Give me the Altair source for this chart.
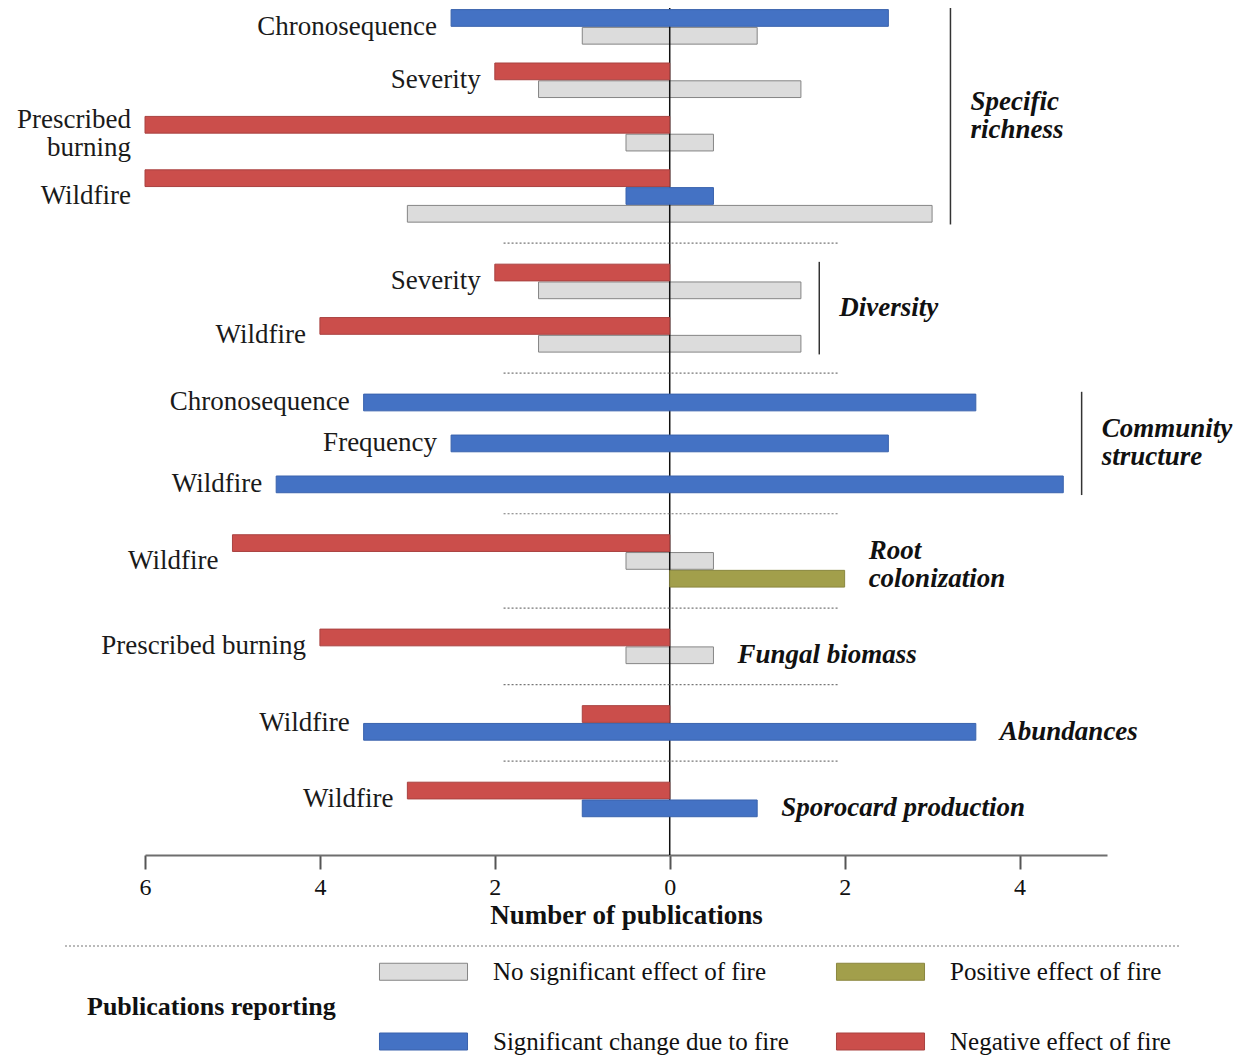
import altair as alt
import pandas as pd

SERIF = "Liberation Serif"

# ---------------- data ----------------
EFFECTS = ["No significant effect of fire", "Significant change due to fire",
           "Positive effect of fire", "Negative effect of fire"]
FILLS = ["#DCDCDC", "#4472C4", "#A29F4B", "#CB4E4B"]
STROKES = ["#858585", "#3A63AD", "#8A873F", "#A94240"]
CODE = {"N": EFFECTS[0], "S": EFFECTS[1], "+": EFFECTS[2], "-": EFFECTS[3]}

GROUPS = ["Specific\nrichness", "Diversity", "Community\nstructure",
          "Root\ncolonization", "Fungal biomass", "Abundances",
          "Sporocard production"]
GROUP_BRACKET = [True, True, True, False, False, False, False]

ROW_GROUP = [0, 0, 0, 0, 1, 1, 2, 2, 2, 3, 4, 5, 6]
ROW_LABEL = ["Chronosequence", "Severity", "Prescribed\nburning", "Wildfire",
             "Severity", "Wildfire",
             "Chronosequence", "Frequency", "Wildfire",
             "Wildfire", "Prescribed burning", "Wildfire", "Wildfire"]

BAR_ROW = [0, 0, 1, 1, 2, 2, 3, 3, 3, 4, 4, 5, 5, 6, 7, 8,
           9, 9, 9, 10, 10, 11, 11, 12, 12]
BAR_EFFECT = ["S", "N", "-", "N", "-", "N", "-", "S", "N", "-", "N", "-", "N",
              "S", "S", "S", "-", "N", "+", "-", "N", "-", "S", "-", "S"]
BAR_COUNT = [5, 2, 2, 3, 6, 1, 6, 1, 6, 2, 3, 4, 3, 7, 5, 9,
             5, 1, 2, 4, 1, 1, 7, 3, 2]

TICKS = [-6, -4, -2, 0, 2, 4]

# ---------------- layout (derived) ----------------
ROW_STEP_MULTI, ROW_STEP_SINGLE, GROUP_STEP = 2.0, 2.3, 3.3
HALF = 0.47
PITCH_PX = 17.8
LINE_PX = 28
GLINE_PX = 28
LH = LINE_PX / PITCH_PX    # row-label line height in slot units
GLH = GLINE_PX / PITCH_PX  # group-label line height in slot units

row_slots = {}
prev_last, prev_group = None, None
for r in range(len(ROW_LABEL)):
    n = BAR_ROW.count(r)
    if prev_last is None:
        start = 0.0
    elif ROW_GROUP[r] != prev_group:
        start = prev_last + GROUP_STEP
    else:
        start = prev_last + (ROW_STEP_MULTI if n > 1 else ROW_STEP_SINGLE)
    row_slots[r] = [start + k for k in range(n)]
    prev_last = start + n - 1
    prev_group = ROW_GROUP[r]

bars = []
seen = {}
for r, e, c in zip(BAR_ROW, BAR_EFFECT, BAR_COUNT):
    k = seen.get(r, 0)
    seen[r] = k + 1
    s = row_slots[r][k]
    if e == "-":
        x0, x1 = -c, 0
    elif e == "+":
        x0, x1 = 0, c
    else:
        x0, x1 = -c / 2, c / 2
    bars.append({"row": r, "effect": CODE[e], "x0": x0, "x1": x1,
                 "y0": s - HALF, "y1": s + HALF, "gray": e == "N"})
bars = pd.DataFrame(bars)

rows = []
for r, lab in enumerate(ROW_LABEL):
    sub = bars[bars.row == r]
    nl = lab.count("\n")
    rows.append({"label": lab, "x": sub.x0.min(),
                 "y": sum(row_slots[r]) / len(row_slots[r]) - nl * LH / 2})
rows = pd.DataFrame(rows)

groups = []
for g, name in enumerate(GROUPS):
    rs = [r for r in range(len(ROW_LABEL)) if ROW_GROUP[r] == g]
    first = row_slots[rs[0]][0]
    last = row_slots[rs[-1]][-1]
    gmax = bars[bars.row.isin(rs)].x1.max()
    nl = name.count("\n")
    ty = (first + last) / 2 - nl * GLH / 2 if GROUP_BRACKET[g] else last - nl * GLH
    groups.append({"name": name, "bracket": GROUP_BRACKET[g], "first": first,
                   "last": last, "ty": ty,
                   "bx": gmax + 0.21, "gmax": gmax,
                   "b0": first - 0.6, "b1": last + 0.6})
groups = pd.DataFrame(groups)

seps = pd.DataFrame([{"y": (groups["last"][i] + groups["first"][i + 1]) / 2,
                      "x0": -1.9, "x1": 1.93} for i in range(len(GROUPS) - 1)])

x_scale = alt.Scale(domain=[-6, 5], nice=False, zero=False)
y_scale = alt.Scale(domain=[-0.56, 47.02], nice=False, zero=False, reverse=True)

SYMBOL = "M-5.18,-1L5.18,-1L5.18,1L-5.18,1Z"

color = alt.Color(
    "effect:N",
    scale=alt.Scale(domain=EFFECTS, range=FILLS),
    legend=alt.Legend(
        title="Publications reporting", orient="none", legendX=-58, legendY=951,
        columns=2, titleOrient="left", titleAnchor="middle", titleBaseline="middle",
        titleFont=SERIF, titleFontSize=26, titleFontWeight="bold", titleColor="#111",
        titlePadding=75, titleLimit=500,
        labelFont=SERIF, labelFontSize=25, labelColor="#111", labelOffset=57,
        labelLimit=500, symbolType=SYMBOL, symbolSize=289,
        symbolStrokeColor="#777", symbolStrokeWidth=1, symbolOpacity=1,
        rowPadding=44, columnPadding=45, padding=0,
    ),
)
stroke = alt.Stroke("effect:N", scale=alt.Scale(domain=EFFECTS, range=STROKES),
                    legend=None)

x_axis = alt.Axis(values=TICKS, labelExpr="abs(datum.value)",
                  title="Number of publications", grid=False, labelFlush=False,
                  domainColor="#6e6e6e", domainWidth=2, tickColor="#555",
                  tickWidth=2, tickSize=14, labelFont=SERIF, labelFontSize=24,
                  labelColor="#111", labelPadding=6, titleFont=SERIF,
                  titleFontSize=27, titleFontWeight="bold", titleColor="#111",
                  titlePadding=3)


def X(field):
    return alt.X(field, type="quantitative", scale=x_scale, axis=x_axis)


def Y(field):
    return alt.Y(field, type="quantitative", scale=y_scale, axis=None)


gray_bars = alt.Chart(bars[bars.gray]).mark_rect(strokeWidth=1).encode(
    x=X("x0"), x2="x1", y=Y("y0"), y2="y1", color=color, stroke=stroke)

zero = alt.Chart(pd.DataFrame({"z": [0]})).mark_rule(
    color="#111", strokeWidth=1.5).encode(x=X("z"))

col_bars = alt.Chart(bars[~bars.gray]).mark_rect(strokeWidth=1).encode(
    x=X("x0"), x2="x1", y=Y("y0"), y2="y1", color=color, stroke=stroke)

row_text = alt.Chart(rows).mark_text(
    align="right", baseline="middle", dx=-14, font=SERIF, fontSize=27,
    lineBreak="\n", lineHeight=LINE_PX, color="#1a1a1a").encode(
    x=X("x"), y=Y("y"), text="label:N")

sep_rules = alt.Chart(seps).mark_rule(
    color="#777", strokeDash=[2, 2], strokeWidth=1.2).encode(
    x=X("x0"), x2="x1", y=Y("y"))

brackets = alt.Chart(groups[groups.bracket]).mark_rule(
    color="#333", strokeWidth=1.5).encode(x=X("bx"), y=Y("b0"), y2="b1")

glabel_b = alt.Chart(groups[groups.bracket]).mark_text(
    align="left", baseline="middle", dx=20, font=SERIF, fontSize=27,
    fontStyle="italic", fontWeight="bold", lineBreak="\n", lineHeight=GLINE_PX,
    color="#111").encode(x=X("bx"), y=Y("ty"), text="name:N")

glabel_n = alt.Chart(groups[~groups.bracket]).mark_text(
    align="left", baseline="middle", dx=24, font=SERIF, fontSize=27,
    fontStyle="italic", fontWeight="bold", lineBreak="\n", lineHeight=GLINE_PX,
    color="#111").encode(x=X("gmax"), y=Y("ty"), text="name:N")

legend_sep = alt.Chart(pd.DataFrame({"k": [0]})).mark_rule(
    color="#777", strokeDash=[2, 2], strokeWidth=1.2).encode(
    x=alt.value(-80), x2=alt.value(1035), y=alt.value(938))

chart = alt.layer(
    gray_bars, zero, col_bars, sep_rules, brackets, row_text,
    glabel_b, glabel_n, legend_sep,
).properties(
    width=962, height=847,
    autosize=alt.AutoSizeParams(type="none"),
    padding={"left": 137, "top": 0, "right": 133, "bottom": 200},
    background="white",
).configure_view(stroke=None)

chart.save("out.html", embed_options={"renderer": "svg", "actions": False})
